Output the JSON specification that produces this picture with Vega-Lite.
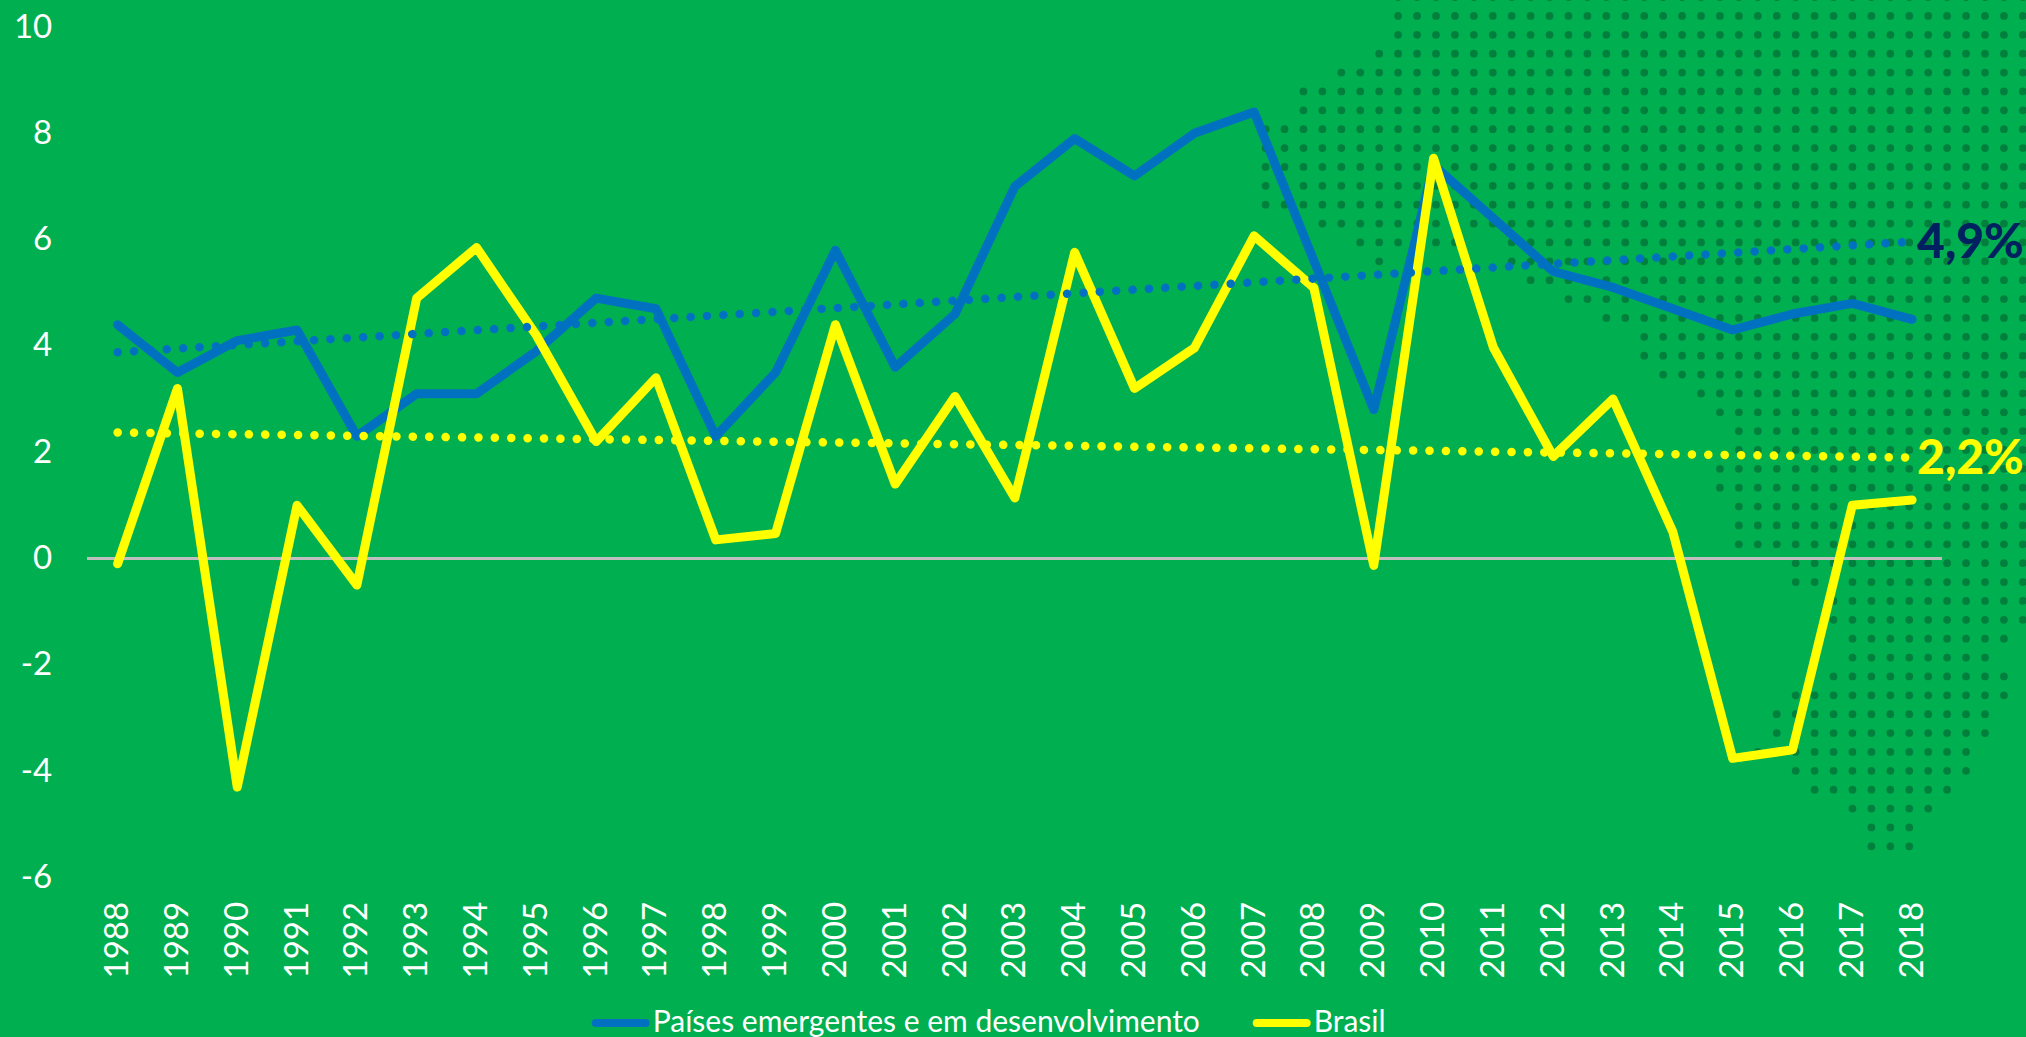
{"$schema":"https://vega.github.io/schema/vega-lite/v6.json","width":1854.3,"height":850.4,"autosize":{"type":"none"},"padding":{"left":87.7,"top":27,"right":84,"bottom":159.6},"background":"#00B050","config":{"view":{"stroke":null},"font":"Lato"},"datasets":{"series":[
{"year":1988,"serie":"Países emergentes e em desenvolvimento","value":4.4},{"year":1989,"serie":"Países emergentes e em desenvolvimento","value":3.5},{"year":1990,"serie":"Países emergentes e em desenvolvimento","value":4.1},{"year":1991,"serie":"Países emergentes e em desenvolvimento","value":4.3},{"year":1992,"serie":"Países emergentes e em desenvolvimento","value":2.3},{"year":1993,"serie":"Países emergentes e em desenvolvimento","value":3.1},{"year":1994,"serie":"Países emergentes e em desenvolvimento","value":3.1},{"year":1995,"serie":"Países emergentes e em desenvolvimento","value":3.9},{"year":1996,"serie":"Países emergentes e em desenvolvimento","value":4.9},{"year":1997,"serie":"Países emergentes e em desenvolvimento","value":4.7},{"year":1998,"serie":"Países emergentes e em desenvolvimento","value":2.3},{"year":1999,"serie":"Países emergentes e em desenvolvimento","value":3.5},{"year":2000,"serie":"Países emergentes e em desenvolvimento","value":5.8},{"year":2001,"serie":"Países emergentes e em desenvolvimento","value":3.6},{"year":2002,"serie":"Países emergentes e em desenvolvimento","value":4.6},{"year":2003,"serie":"Países emergentes e em desenvolvimento","value":7.0},{"year":2004,"serie":"Países emergentes e em desenvolvimento","value":7.9},{"year":2005,"serie":"Países emergentes e em desenvolvimento","value":7.2},{"year":2006,"serie":"Países emergentes e em desenvolvimento","value":8.0},{"year":2007,"serie":"Países emergentes e em desenvolvimento","value":8.4},{"year":2008,"serie":"Países emergentes e em desenvolvimento","value":5.6},{"year":2009,"serie":"Países emergentes e em desenvolvimento","value":2.8},{"year":2010,"serie":"Países emergentes e em desenvolvimento","value":7.4},{"year":2011,"serie":"Países emergentes e em desenvolvimento","value":6.4},{"year":2012,"serie":"Países emergentes e em desenvolvimento","value":5.4},{"year":2013,"serie":"Países emergentes e em desenvolvimento","value":5.1},{"year":2014,"serie":"Países emergentes e em desenvolvimento","value":4.7},{"year":2015,"serie":"Países emergentes e em desenvolvimento","value":4.3},{"year":2016,"serie":"Países emergentes e em desenvolvimento","value":4.6},{"year":2017,"serie":"Países emergentes e em desenvolvimento","value":4.8},{"year":2018,"serie":"Países emergentes e em desenvolvimento","value":4.5},
{"year":1988,"serie":"Brasil","value":-0.1},{"year":1989,"serie":"Brasil","value":3.2},{"year":1990,"serie":"Brasil","value":-4.3},{"year":1991,"serie":"Brasil","value":1.0},{"year":1992,"serie":"Brasil","value":-0.5},{"year":1993,"serie":"Brasil","value":4.9},{"year":1994,"serie":"Brasil","value":5.85},{"year":1995,"serie":"Brasil","value":4.2},{"year":1996,"serie":"Brasil","value":2.2},{"year":1997,"serie":"Brasil","value":3.4},{"year":1998,"serie":"Brasil","value":0.35},{"year":1999,"serie":"Brasil","value":0.47},{"year":2000,"serie":"Brasil","value":4.4},{"year":2001,"serie":"Brasil","value":1.4},{"year":2002,"serie":"Brasil","value":3.05},{"year":2003,"serie":"Brasil","value":1.14},{"year":2004,"serie":"Brasil","value":5.76},{"year":2005,"serie":"Brasil","value":3.2},{"year":2006,"serie":"Brasil","value":3.96},{"year":2007,"serie":"Brasil","value":6.07},{"year":2008,"serie":"Brasil","value":5.09},{"year":2009,"serie":"Brasil","value":-0.13},{"year":2010,"serie":"Brasil","value":7.53},{"year":2011,"serie":"Brasil","value":3.97},{"year":2012,"serie":"Brasil","value":1.92},{"year":2013,"serie":"Brasil","value":3.0},{"year":2014,"serie":"Brasil","value":0.5},{"year":2015,"serie":"Brasil","value":-3.76},{"year":2016,"serie":"Brasil","value":-3.6},{"year":2017,"serie":"Brasil","value":1.0},{"year":2018,"serie":"Brasil","value":1.1}
],"trend":[{"year":1988,"trend":"emergentes","value":3.88},{"year":2018,"trend":"emergentes","value":5.96,"label":"4,9%"},{"year":1988,"trend":"brasil","value":2.37},{"year":2018,"trend":"brasil","value":1.9,"label":"2,2%"}],
"map":[
{"r":0,"cols":[7,8,9,10,11,12,13,14,15,16,17,18,19,20,21,22,23,24,25,26,27,28,29,30,31,32,33,34,35,36,37,38,39,40]},
{"r":1,"cols":[7,8,9,10,11,12,13,14,15,16,17,18,19,20,21,22,23,24,25,26,27,28,29,30,31,32,33,34,35,36,37,38,39,40]},
{"r":2,"cols":[7,8,9,10,11,12,13,14,15,16,17,18,19,20,21,22,23,24,25,26,27,28,29,30,31,32,33,34,35,36,37,38,39,40]},
{"r":3,"cols":[6,7,8,9,10,11,12,13,14,15,16,17,18,19,20,21,22,23,24,25,26,27,28,29,30,31,32,33,34,35,36,37,38,39,40]},
{"r":4,"cols":[4,5,6,7,8,9,10,11,12,13,14,15,16,17,18,19,20,21,22,23,24,25,26,27,28,29,30,31,32,33,34,35,36,37,38,39,40]},
{"r":5,"cols":[2,3,4,5,6,7,8,9,10,11,12,13,14,15,16,17,18,19,20,21,22,23,24,25,26,27,28,29,30,31,32,33,34,35,36,37,38,39,40]},
{"r":6,"cols":[2,3,4,5,6,7,8,9,10,11,12,13,14,15,16,17,18,19,20,21,22,23,24,25,26,27,28,29,30,31,32,33,34,35,36,37,38,39,40]},
{"r":7,"cols":[0,1,2,3,4,5,6,7,8,9,10,11,12,13,14,15,16,17,18,19,20,21,22,23,24,25,26,27,28,29,30,31,32,33,34,35,36,37,38,39,40]},
{"r":8,"cols":[0,1,2,3,4,5,6,7,8,9,10,11,12,13,14,15,16,17,18,19,20,21,22,23,24,25,26,27,28,29,30,31,32,33,34,35,36,37,38,39,40]},
{"r":9,"cols":[0,1,2,3,4,5,6,7,8,9,10,11,12,13,14,15,16,17,18,19,20,21,22,23,24,25,26,27,28,29,30,31,32,33,34,35,36,37,38,39,40]},
{"r":10,"cols":[0,1,2,3,4,5,6,7,8,9,10,11,12,13,14,15,16,17,18,19,20,21,22,23,24,25,26,27,28,29,30,31,32,33,34,35,36,37,38,39,40]},
{"r":11,"cols":[0,1,2,3,4,5,6,7,8,9,10,11,12,13,14,15,16,17,18,19,20,21,22,23,24,25,26,27,28,29,30,31,32,33,34,35,36,37,38,39,40]},
{"r":12,"cols":[3,4,5,6,7,8,9,10,11,12,13,14,15,16,17,18,19,20,21,22,23,24,25,26,27,28,29,30,31,32,33,34,35,36,37,38,39,40]},
{"r":13,"cols":[5,6,7,8,9,10,13,14,15,16,17,18,19,20,21,22,23,24,25,26,27,28,29,30,31,32,33,34,35,36,37,38,39,40]},
{"r":14,"cols":[6,13,14,15,16,17,18,19,20,21,22,23,24,25,26,27,28,29,30,31,32,33,34,35,36,37,38,39,40]},
{"r":15,"cols":[14,15,16,17,18,19,20,21,22,23,24,25,26,27,28,29,30,31,32,33,34,35,36,37,38,39,40]},
{"r":16,"cols":[16,17,18,19,20,21,22,23,24,25,26,27,28,29,30,31,32,33,34,35,36,37,38,39,40]},
{"r":17,"cols":[18,19,20,21,22,23,24,25,26,27,28,29,30,31,32,33,34,35,36,37,38,39,40]},
{"r":18,"cols":[20,21,22,23,24,25,26,27,28,29,30,31,32,33,34,35,36,37,38,39,40]},
{"r":19,"cols":[20,21,22,23,24,25,26,27,28,29,30,31,32,33,34,35,36,37,38,39,40]},
{"r":20,"cols":[21,22,23,24,25,26,27,28,29,30,31,32,33,34,35,36,37,38,39,40]},
{"r":21,"cols":[23,24,25,26,27,28,29,30,31,32,33,34,35,36,37,38,39,40]},
{"r":22,"cols":[24,25,26,27,28,29,30,31,32,33,34,35,36,37,38,39,40]},
{"r":23,"cols":[25,26,27,28,29,30,31,32,33,34,35,36,37,38,39,40]},
{"r":24,"cols":[25,26,27,28,29,30,31,32,33,34,35,36,37,38,39,40]},
{"r":25,"cols":[24,25,26,27,28,29,30,31,32,33,34,35,36,37,38,39,40]},
{"r":26,"cols":[24,25,26,27,28,29,30,31,32,33,34,35,36,37,38,39,40]},
{"r":27,"cols":[25,26,27,28,29,30,31,32,33,34,35,36,37,38,39,40]},
{"r":28,"cols":[25,26,27,28,29,30,31,32,33,34,35,36,37,38,39,40]},
{"r":29,"cols":[25,26,27,28,29,30,31,32,33,34,35,36,37,38,39,40]},
{"r":30,"cols":[28,29,30,31,32,33,34,35,36,37,38,39,40]},
{"r":31,"cols":[28,29,30,31,32,33,34,35,36,37,38,39,40]},
{"r":32,"cols":[30,31,32,33,34,35,36,37,38,39,40]},
{"r":33,"cols":[30,31,32,33,34,35,36,37,38,39,40]},
{"r":34,"cols":[31,32,33,34,35,36,37,38,39]},
{"r":35,"cols":[31,32,33,34,35,36,37,38]},
{"r":36,"cols":[30,31,32,33,34,35,36,37,38,39]},
{"r":37,"cols":[28,29,30,31,32,33,34,35,36,37,38,39]},
{"r":38,"cols":[27,28,29,30,31,32,33,34,35,36,37,38]},
{"r":39,"cols":[27,28,29,30,31,32,33,34,35,36,37,38]},
{"r":40,"cols":[26,27,28,29,30,31,32,33,34,35,36,37]},
{"r":41,"cols":[28,29,30,31,32,33,34,35,36,37]},
{"r":42,"cols":[29,30,31,32,33,34,35,36]},
{"r":43,"cols":[31,32,33,34,35]},
{"r":44,"cols":[32,33,34]},
{"r":45,"cols":[32,33,34]}
]},
"layer":[
{"data":{"name":"map"},"transform":[{"flatten":["cols"],"as":["col"]}],"mark":{"type":"circle","size":60,"opacity":1,"color":"#00803C"},"encoding":{"x":{"field":"col","type":"quantitative","scale":{"domain":[-62.22,35.73],"nice":false,"zero":false},"axis":null},"y":{"field":"r","type":"quantitative","scale":{"domain":[46.65,1.584],"nice":false,"zero":false},"axis":null}}},
{"encoding":{"x":{"field":"year","type":"ordinal","scale":{"type":"point","padding":0.5},"axis":{"title":null,"labelAngle":-90,"labelAlign":"right","labelBaseline":"middle","labelColor":"white","labelFontSize":33,"labelPadding":24,"domain":false,"ticks":false,"grid":false,"labelOverlap":false}},"y":{"field":"value","type":"quantitative","scale":{"domain":[-6,10],"nice":false,"zero":false},"axis":{"title":null,"values":[-6,-4,-2,0,2,4,6,8,10],"labelExpr":"'' + datum.value","labelColor":"white","labelFontSize":33,"labelPadding":36,"domain":false,"ticks":false,"grid":false}}},
"layer":[
{"data":{"name":"series"},"mark":{"type":"rule","color":"#BFBFBF","strokeWidth":2},"encoding":{"x":{},"y":{"datum":0}}},
{"data":{"name":"series"},"mark":{"type":"line","strokeWidth":9,"strokeCap":"round","strokeJoin":"round"},"encoding":{"color":{"field":"serie","type":"nominal","scale":{"domain":["Países emergentes e em desenvolvimento","Brasil"],"range":["#0070C0","#FFFF00"]},"legend":{"title":null,"orient":"none","legendX":504,"legendY":967,"direction":"horizontal","columns":2,"symbolType":"stroke","symbolSize":2500,"symbolStrokeWidth":8,"labelColor":"white","labelFontSize":30,"labelOffset":3,"columnPadding":40,"labelLimit":700,"encode":{"symbols":{"update":{"strokeCap":{"value":"round"}}}}}}}},
{"data":{"name":"trend"},"transform":[{"filter":"datum.trend === 'emergentes'"}],"mark":{"type":"line","color":"#0070C0","strokeWidth":8.5,"strokeCap":"round","strokeDash":[0.1,16.3]}},
{"data":{"name":"trend"},"transform":[{"filter":"datum.trend === 'brasil'"}],"mark":{"type":"line","color":"#FFFF00","strokeWidth":8.5,"strokeCap":"round","strokeDash":[0.1,16.3]}},
{"data":{"name":"trend"},"transform":[{"filter":"datum.trend === 'emergentes' && datum.label"}],"mark":{"type":"text","align":"left","baseline":"middle","dx":5,"dy":2,"fontSize":48,"fontWeight":900,"color":"#002060"},"encoding":{"text":{"field":"label"}}},
{"data":{"name":"trend"},"transform":[{"filter":"datum.trend === 'brasil' && datum.label"}],"mark":{"type":"text","align":"left","baseline":"middle","dx":5,"dy":2,"fontSize":48,"fontWeight":900,"color":"#FFFF00"},"encoding":{"text":{"field":"label"}}}
]}
],"resolve":{"scale":{"x":"independent","y":"independent"}}}
